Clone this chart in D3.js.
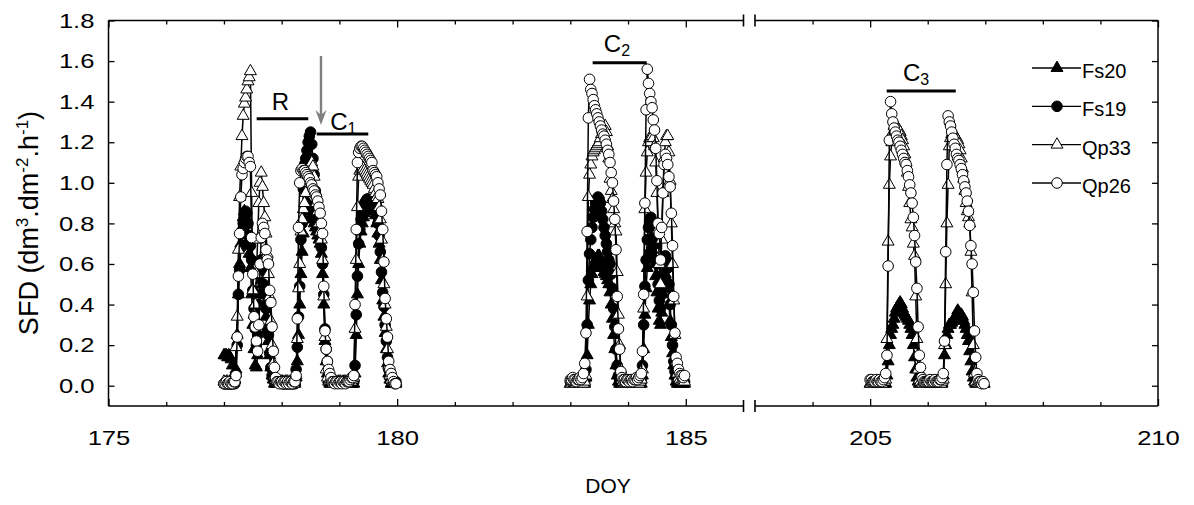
<!DOCTYPE html>
<html>
<head>
<meta charset="utf-8">
<script src="https://cdn.jsdelivr.net/npm/d3@7"></script>
<style>
  body { margin: 0; background: #fff; }
  svg { display: block; }
  text { font-family: Arial, "Liberation Sans", sans-serif; fill: #000; }
</style>
</head>
<body>
<svg id="chart" width="1194" height="505"></svg>
<script>
// ---------------- DATA (half-hourly SFD, dm3 dm-2 h-1) ----------------
const stepDays = 1 / 48;
const g1Start = 177, g2Start = 183, g3Start = 205;

const yTicks = [0.0, 0.2, 0.4, 0.6, 0.8, 1.0, 1.2, 1.4, 1.6, 1.8];
const xMajorLeft = [175, 180, 185];
const xMinorLeft = [176, 177, 178, 179, 181, 182, 183, 184];
const xMajorRight = [205, 210];
const xMinorRight = [204, 206, 207, 208, 209];

const seriesNames = ["Fs20", "Fs19", "Qp33", "Qp26"];

// Fs20 (filled triangle)
const fs20_g1 = [
  0.15,0.15,0.15,0.14,0.15,0.14,0.13,0.10,0.05,0.03, 0.08,0.25,0.45,0.60,0.70,0.78,0.83,0.86,0.85,0.80,
  0.72,0.65,0.58,0.45,0.30,0.18,0.10,0.09,0.15,0.30, 0.45,0.52,0.50,0.45,0.40,0.34,0.28,0.22,0.15,0.09,
  0.05,0.03,0.01,0.01,0.01,0.01,0.01,0.01,
  0.01,0.01,0.01,0.01,0.01,0.01,0.01,0.01,0.01,0.01,0.01,0.01, 0.04,0.12,0.25,0.40,0.55,0.66,0.75,0.82,0.87,0.90,
  0.90,0.88,0.86,0.84,0.82,0.80,0.78,0.76,0.74,0.72, 0.70,0.65,0.55,0.40,0.22,0.12,0.06,0.03,0.01,0.01,
  0.01,0.01,0.01,0.01,0.01,0.01,
  0.01,0.01,0.01,0.01,0.01,0.01,0.01,0.01,0.01,0.01,0.01,0.01,0.01, 0.06,0.25,0.45,0.60,0.70,0.76,0.80,0.83,0.85,0.86,
  0.87,0.88,0.89,0.90,0.89,0.88,0.86,0.84,0.80,0.75, 0.70,0.62,0.52,0.42,0.34,0.26,0.18,0.11,0.06,0.03,
  0.01,0.01,0.01,0.01,0.01
];
const fs20_g2 = [
  0.01,0.01,0.01,0.01,0.01,0.01,0.01,0.01,0.01,0.01,0.01,0.01,0.01, 0.04,0.15,0.30,0.42,0.50,0.55,0.58,0.60,0.62,0.63,
  0.64,0.64,0.62,0.60,0.58,0.56,0.55,0.54,0.52,0.50, 0.46,0.40,0.33,0.25,0.18,0.10,0.05,0.02,0.01,0.01,
  0.01,0.01,0.01,0.01,0.01,
  0.01,0.01,0.01,0.01,0.01,0.01,0.01,0.01,0.01,0.01,0.01,0.01, 0.05,0.18,0.35,0.48,0.58,0.63,0.66,0.68,0.67,0.64,
  0.60,0.54,0.46,0.38,0.32,0.30,0.36,0.45,0.52,0.55, 0.53,0.48,0.40,0.32,0.24,0.16,0.10,0.05,0.02,0.01,
  0.01,0.01,0.01,0.01,0.01,0.01
];
const fs20_g3 = [
  0.01,0.01,0.01,0.01,0.01,0.01,0.01,0.01,0.01,0.01,0.01,0.01,0.01,0.01, 0.05,0.12,0.20,0.25,0.28,0.30,0.33,0.36,0.38,0.39,
  0.40,0.41,0.40,0.38,0.36,0.35,0.34,0.33,0.32,0.30, 0.28,0.25,0.20,0.14,0.08,0.04,0.02,0.01,0.01,0.01,
  0.01,0.01,0.01,0.01,
  0.01,0.01,0.01,0.01,0.01,0.01,0.01,0.01,0.01,0.01,0.01,0.01,0.01, 0.05,0.15,0.20,0.25,0.28,0.30,0.30,0.31,0.32,0.33,
  0.34,0.35,0.37,0.36,0.35,0.35,0.34,0.32,0.30,0.28, 0.25,0.22,0.17,0.12,0.07,0.04,0.02,0.01,0.01,0.01,
  0.01,0.01,0.01,0.01,0.01
];

// Fs19 (filled circle)
const fs19_g1 = [
  0.01,0.01,0.01,0.01,0.01,0.01,0.01,0.01,0.01,0.01, 0.05,0.20,0.45,0.57,0.68,0.75,0.80,0.84,0.86,0.85,
  0.80,0.74,0.69,0.62,0.47,0.38,0.28,0.20,0.25,0.40, 0.55,0.62,0.58,0.50,0.45,0.38,0.28,0.25,0.16,0.09,
  0.05,0.03,0.02,0.02,0.02,0.02,0.02,0.02,
  0.01,0.01,0.01,0.01,0.01,0.01,0.01,0.01,0.01,0.01,0.01,0.01, 0.08,0.19,0.34,0.49,0.72,0.80,0.97,1.09,1.12,1.16,
  1.20,1.23,1.25,1.19,1.12,1.04,0.96,0.90,0.85,0.80, 0.74,0.68,0.60,0.45,0.28,0.18,0.12,0.07,0.04,0.02,
  0.02,0.02,0.02,0.02,0.02,0.02,
  0.02,0.02,0.02,0.02,0.02,0.02,0.02,0.02,0.02,0.02,0.02,0.02,0.02, 0.10,0.35,0.54,0.70,0.77,0.82,0.86,0.88,0.90,0.91,
  0.92,0.92,0.91,0.90,0.89,0.88,0.87,0.86,0.84,0.80, 0.74,0.66,0.56,0.46,0.39,0.30,0.22,0.14,0.08,0.04,
  0.02,0.02,0.02,0.02,0.02
];
const fs19_g2 = [
  0.02,0.02,0.02,0.02,0.02,0.02,0.02,0.02,0.02,0.02,0.02,0.02,0.02, 0.08,0.30,0.52,0.65,0.72,0.78,0.83,0.87,0.90,0.92,
  0.93,0.92,0.90,0.86,0.82,0.78,0.74,0.70,0.66,0.62, 0.60,0.55,0.48,0.38,0.29,0.18,0.10,0.05,0.03,0.02,
  0.02,0.02,0.02,0.02,0.02,
  0.02,0.02,0.02,0.02,0.02,0.02,0.02,0.02,0.02,0.02,0.02,0.02, 0.10,0.30,0.49,0.62,0.72,0.78,0.81,0.83,0.81,0.78,
  0.75,0.70,0.60,0.50,0.42,0.38,0.45,0.55,0.62,0.64, 0.62,0.58,0.50,0.40,0.30,0.20,0.12,0.07,0.04,0.02,
  0.02,0.02,0.02,0.02,0.02,0.02
];

// Qp33 (open triangle)
const qp33_g1 = [
  0.02,0.01,0.02,0.02,0.01,0.02,0.02,0.01,0.02,0.03, 0.19,0.34,0.67,0.93,1.08,1.23,1.33,1.39,1.42,1.46,
  1.50,1.52,1.55,0.95,0.47,0.35,0.40,0.55,0.72,0.90, 1.00,1.05,0.98,0.90,0.83,0.75,0.65,0.55,0.44,0.32,
  0.20,0.11,0.05,0.03,0.02,0.02,0.01,0.02,
  0.02,0.02,0.01,0.02,0.02,0.02,0.01,0.02,0.02,0.02,0.01,0.02, 0.05,0.23,0.48,0.60,0.76,0.82,0.87,0.90,0.95,1.00,
  1.03,1.06,1.08,1.10,1.08,1.03,0.96,0.90,0.86,0.80, 0.76,0.72,0.62,0.44,0.24,0.08,0.04,0.02,0.02,0.02,
  0.02,0.01,0.02,0.02,0.01,0.02,
  0.02,0.02,0.01,0.02,0.02,0.02,0.01,0.02,0.02,0.02,0.02,0.03,0.04, 0.28,0.62,0.88,1.03,1.06,1.07,1.08,1.07,1.06,1.05,
  1.04,1.03,1.02,1.01,1.00,0.99,0.97,0.95,0.93,0.92, 0.88,0.82,0.72,0.62,0.50,0.40,0.29,0.18,0.10,0.05,
  0.03,0.02,0.02,0.02,0.02
];
const qp33_g2 = [
  0.01,0.01,0.02,0.01,0.01,0.01,0.02,0.01,0.01,0.01,0.02,0.01,0.02, 0.05,0.44,0.93,1.04,1.09,1.13,1.15,1.16,1.17,1.18,
  1.19,1.20,1.22,1.24,1.26,1.27,1.28,1.25,1.18,1.12, 1.02,0.96,0.92,0.87,0.80,0.76,0.56,0.35,0.20,0.08,
  0.03,0.02,0.01,0.01,0.01,
  0.01,0.01,0.01,0.02,0.01,0.01,0.01,0.02,0.01,0.01,0.02,0.03, 0.08,0.38,0.87,1.05,1.15,1.20,1.22,1.23,1.23,1.22,
  1.18,1.10,0.95,0.77,0.60,0.50,0.72,0.95,1.12,1.20, 1.23,1.23,1.15,1.01,0.80,0.60,0.42,0.25,0.12,0.06,
  0.04,0.03,0.02,0.02,0.02,0.02
];
const qp33_g3 = [
  0.01,0.01,0.02,0.01,0.01,0.02,0.01,0.01,0.02,0.01,0.01,0.02,0.02,0.03, 0.23,0.71,0.99,1.13,1.20,1.25,1.28,1.28,1.27,1.27,
  1.26,1.25,1.23,1.21,1.18,1.14,1.10,1.05,0.98,0.90, 0.82,0.78,0.70,0.64,0.44,0.23,0.08,0.03,0.02,0.01,
  0.01,0.02,0.01,0.01,
  0.01,0.02,0.01,0.01,0.01,0.02,0.01,0.01,0.01,0.02,0.01,0.01,0.02,0.03, 0.20,0.50,0.80,0.99,1.18,1.22,1.24,1.25,1.24,1.23,
  1.22,1.21,1.19,1.16,1.12,1.07,1.02,0.96,0.90,0.86, 0.83,0.80,0.66,0.46,0.20,0.06,0.02,0.01,0.01,0.01,
  0.01,0.01,0.01,0.01
];

// Qp26 (open circle)
const qp26_g1 = [
  0.01,0.01,0.02,0.01,0.01,0.02,0.01,0.01,0.02,0.02, 0.05,0.24,0.54,0.75,0.93,1.04,1.07,1.10,1.12,1.13,
  1.13,1.10,1.08,0.73,0.55,0.34,0.29,0.22,0.17,0.30, 0.60,0.73,0.80,0.78,0.75,0.67,0.62,0.60,0.47,0.41,
  0.29,0.17,0.09,0.04,0.02,0.02,0.01,0.02,
  0.02,0.01,0.02,0.02,0.01,0.02,0.01,0.02,0.02,0.01,0.02,0.02, 0.05,0.33,0.78,1.00,1.06,1.07,1.06,1.06,1.05,1.04,
  1.03,1.02,1.00,0.99,0.97,0.96,0.94,0.93,0.91,0.88, 0.85,0.80,0.75,0.49,0.27,0.18,0.12,0.08,0.06,0.04,
  0.02,0.02,0.01,0.02,0.02,0.01,
  0.02,0.02,0.01,0.02,0.02,0.01,0.02,0.02,0.02,0.03,0.04,0.04,0.05, 0.40,0.77,1.10,1.15,1.17,1.18,1.18,1.17,1.16,1.15,
  1.14,1.13,1.12,1.11,1.10,1.06,1.05,1.04,1.03,1.00, 0.97,0.94,0.86,0.77,0.61,0.43,0.33,0.24,0.12,0.08,
  0.06,0.04,0.02,0.01,0.01
];
const qp26_g2 = [
  0.03,0.03,0.04,0.03,0.03,0.02,0.03,0.03,0.04,0.03,0.04, 0.06,0.11,0.26,0.76,1.32,1.51,1.46,1.44,1.41,1.38,
  1.36,1.34,1.32,1.30,1.28,1.26,1.24,1.23,1.21,1.19, 1.16,1.14,1.10,1.05,1.00,0.91,0.82,0.67,0.44,0.28,
  0.18,0.07,0.04,0.03,0.03,0.02,0.03,
  0.03,0.02,0.03,0.03,0.02,0.03,0.03,0.04,0.03,0.04,0.05, 0.06,0.17,0.45,0.90,1.36,1.56,1.49,1.44,1.40,1.37,
  1.31,1.26,1.17,1.01,0.80,0.75,0.62,0.78,0.95,1.09, 1.14,1.12,1.09,1.03,0.98,0.85,0.69,0.44,0.26,0.14,
  0.11,0.08,0.06,0.05,0.05,0.04,0.05
];
const qp26_g3 = [
  0.03,0.03,0.02,0.02,0.02,0.03,0.02,0.02,0.03,0.02,0.02,0.03,0.04, 0.06,0.15,0.59,1.21,1.40,1.34,1.30,1.27,1.25,1.23,
  1.21,1.20,1.18,1.16,1.14,1.12,1.10,1.09,1.06,1.03, 0.99,0.95,0.90,0.83,0.74,0.61,0.48,0.29,0.15,0.09,
  0.04,0.03,0.02,0.02,0.02,
  0.02,0.02,0.03,0.02,0.02,0.02,0.03,0.02,0.02,0.02,0.03,0.03,0.04, 0.06,0.22,0.66,1.09,1.33,1.30,1.28,1.25,1.22,1.19,
  1.17,1.14,1.12,1.11,1.09,1.07,1.04,1.01,0.98,0.95, 0.91,0.86,0.79,0.69,0.60,0.46,0.27,0.14,0.06,0.03,
  0.02,0.02,0.01,0.02,0.01
];

// ---------------- CHART ----------------
const svg = d3.select("#chart");
const FONT = "Arial, 'Liberation Sans', sans-serif";
const TICK_FS = 21, TICK_STRETCH = 1.22;

const y = d3.scaleLinear().domain([-0.1, 1.8]).range([406, 20.5]);
const xL = d3.scaleLinear().domain([175, 186]).range([108.5, 743.5]);
const xR = d3.scaleLinear().domain([203, 210]).range([755, 1158]);
const yTop = y.range()[1], yBot = y.range()[0];

const series = [
  { name: "Fs20", shape: "tri",  fill: "#000", segs: [[g1Start, fs20_g1, xL], [g2Start, fs20_g2, xL], [g3Start, fs20_g3, xR]] },
  { name: "Fs19", shape: "circ", fill: "#000", segs: [[g1Start, fs19_g1, xL], [g2Start, fs19_g2, xL]] },
  { name: "Qp33", shape: "tri",  fill: "#fff", segs: [[g1Start, qp33_g1, xL], [g2Start, qp33_g2, xL], [g3Start, qp33_g3, xR]] },
  { name: "Qp26", shape: "circ", fill: "#fff", segs: [[g1Start, qp26_g1, xL], [g2Start, qp26_g2, xL], [g3Start, qp26_g3, xR]] }
];

const triPath = d3.symbol().type(d3.symbolTriangle).size(62)();
const circR = 5.3;

const plot = svg.append("g");
series.forEach(s => {
  const g = plot.append("g");
  s.segs.forEach(([start, vals, xs]) => {
    const pts = vals.map((v, i) => ({ t: start + i * stepDays, v }));
    const line = d3.line().x(d => xs(d.t)).y(d => y(d.v));
    g.append("path").datum(pts).attr("d", line)
      .attr("fill", "none").attr("stroke", "#000").attr("stroke-width", 1.5);
    const mk = g.append("g");
    if (s.shape === "circ") {
      mk.selectAll("circle").data(pts).join("circle")
        .attr("cx", d => xs(d.t)).attr("cy", d => y(d.v)).attr("r", circR)
        .attr("fill", s.fill).attr("stroke", "#000").attr("stroke-width", 1);
    } else {
      mk.selectAll("path").data(pts).join("path")
        .attr("d", triPath)
        .attr("transform", d => `translate(${xs(d.t)},${y(d.v)})`)
        .attr("fill", s.fill).attr("stroke", "#000").attr("stroke-width", 1);
    }
  });
});

// ---------------- AXES / FRAME ----------------
const axG = svg.append("g");
function styleAxis(g) {
  g.select(".domain").remove();
  g.selectAll(".tick line").attr("stroke", "#000").attr("stroke-width", 1.3);
  g.selectAll("text").attr("font-size", TICK_FS).attr("font-family", FONT).attr("fill", "#000")
    .each(function () {
      const w = this.getComputedTextLength();
      if (w > 0) d3.select(this).attr("textLength", w * TICK_STRETCH).attr("lengthAdjust", "spacingAndGlyphs");
    });
}
// left y axis
axG.append("g").attr("transform", `translate(${xL.range()[0]},0)`)
  .call(d3.axisLeft(y).tickValues(yTicks).tickSize(-6).tickPadding(14).tickFormat(d3.format(".1f")))
  .call(styleAxis);
// right y axis
axG.append("g").attr("transform", `translate(${xR.range()[1]},0)`)
  .call(d3.axisRight(y).tickValues(yTicks).tickSize(-6).tickFormat(""))
  .call(styleAxis);
// bottom / top x axes for both panels
[[xL, xMajorLeft, xMinorLeft], [xR, xMajorRight, xMinorRight]].forEach(([xs, maj, min]) => {
  axG.append("g").attr("transform", `translate(0,${yBot})`)
    .call(d3.axisBottom(xs).tickValues(maj).tickSize(-7).tickPadding(24).tickFormat(d3.format("d")))
    .call(styleAxis);
  axG.append("g").attr("transform", `translate(0,${yBot})`)
    .call(d3.axisBottom(xs).tickValues(min).tickSize(-4).tickFormat(""))
    .call(styleAxis);
  axG.append("g").attr("transform", `translate(0,${yTop})`)
    .call(d3.axisTop(xs).tickValues(maj).tickSize(-7).tickFormat(""))
    .call(styleAxis);
  axG.append("g").attr("transform", `translate(0,${yTop})`)
    .call(d3.axisTop(xs).tickValues(min).tickSize(-4).tickFormat(""))
    .call(styleAxis);
});
// frame lines
const frame = axG.append("g").attr("stroke", "#000").attr("stroke-width", 1.5).attr("fill", "none");
[yTop, yBot].forEach(yy => {
  frame.append("line").attr("x1", xL.range()[0]).attr("x2", xL.range()[1]).attr("y1", yy).attr("y2", yy);
  frame.append("line").attr("x1", xR.range()[0]).attr("x2", xR.range()[1]).attr("y1", yy).attr("y2", yy);
  [xL.range()[1], xR.range()[0]].forEach(xx => {
    frame.append("line").attr("x1", xx).attr("x2", xx).attr("y1", yy - 6).attr("y2", yy + 6).attr("stroke-width", 1.6);
  });
});
frame.append("line").attr("x1", xL.range()[0]).attr("x2", xL.range()[0]).attr("y1", yTop).attr("y2", yBot);
frame.append("line").attr("x1", xR.range()[1]).attr("x2", xR.range()[1]).attr("y1", yTop).attr("y2", yBot);

// axis titles
svg.append("text").attr("x", 608).attr("y", 493).attr("text-anchor", "middle")
  .attr("font-size", 21).text("DOY");
const yt = svg.append("text").attr("transform", "translate(38,223) rotate(-90)")
  .attr("text-anchor", "middle").attr("font-size", 27);
yt.append("tspan").text("SFD (dm");
yt.append("tspan").attr("font-size", 17).attr("dy", -10).text("3");
yt.append("tspan").attr("dy", 10).text(".dm");
yt.append("tspan").attr("font-size", 17).attr("dy", -10).text("-2");
yt.append("tspan").attr("dy", 10).text(".h");
yt.append("tspan").attr("font-size", 17).attr("dy", -10).text("-1");
yt.append("tspan").attr("dy", 10).text(")");

// ---------------- ANNOTATIONS ----------------
const ann = svg.append("g");
const bars = [
  { xs: xL, t0: 177.567, t1: 178.461, v: 1.316 },
  { xs: xL, t0: 178.607, t1: 179.50,  v: 1.24 },
  { xs: xL, t0: 183.387, t1: 184.323, v: 1.592 },
  { xs: xR, t0: 205.288, t1: 206.487, v: 1.452 }
];
bars.forEach(b => ann.append("line").attr("x1", b.xs(b.t0)).attr("x2", b.xs(b.t1))
  .attr("y1", y(b.v)).attr("y2", y(b.v)).attr("stroke", "#000").attr("stroke-width", 3));
const labels = [
  { xs: xL, t: 177.83, v: 1.36, main: "R", sub: "" },
  { xs: xL, t: 178.84, v: 1.26, main: "C", sub: "1" },
  { xs: xL, t: 183.58, v: 1.645, main: "C", sub: "2" },
  { xs: xR, t: 205.57, v: 1.50, main: "C", sub: "3" }
];
labels.forEach(l => {
  const t = ann.append("text").attr("x", l.xs(l.t)).attr("y", y(l.v)).attr("font-size", 24);
  t.append("tspan").text(l.main);
  if (l.sub) t.append("tspan").attr("font-size", 16).attr("dy", 4).text(l.sub);
});
// gray arrow
const arrowT = 178.681, arrowV0 = 1.625, arrowV1 = 1.285;
ann.append("line").attr("x1", xL(arrowT)).attr("x2", xL(arrowT))
  .attr("y1", y(arrowV0)).attr("y2", y(arrowV1) - 10).attr("stroke", "#7f7f7f").attr("stroke-width", 2.4);
ann.append("path")
  .attr("d", `M${xL(arrowT) - 5.5},${y(arrowV1) - 15} L${xL(arrowT)},${y(arrowV1)} L${xL(arrowT) + 5.5},${y(arrowV1) - 15} L${xL(arrowT)},${y(arrowV1) - 10} Z`)
  .attr("fill", "#7f7f7f");

// ---------------- LEGEND ----------------
const leg = svg.append("g");
const legY = d3.scalePoint().domain(seriesNames).range([68, 183]);
series.forEach(s => {
  const yy = legY(s.name);
  const g = leg.append("g").attr("transform", `translate(0,${yy})`);
  g.append("line").attr("x1", 1032).attr("x2", 1081).attr("y1", 0).attr("y2", 0)
    .attr("stroke", "#000").attr("stroke-width", 1.4);
  if (s.shape === "circ") {
    g.append("circle").attr("cx", 1057).attr("cy", 0).attr("r", circR)
      .attr("fill", s.fill).attr("stroke", "#000");
  } else {
    g.append("path").attr("d", triPath).attr("transform", "translate(1057,0)")
      .attr("fill", s.fill).attr("stroke", "#000");
  }
  g.append("text").attr("x", 1082).attr("y", 10).attr("font-size", 20).text(s.name);
});
</script>
</body>
</html>
